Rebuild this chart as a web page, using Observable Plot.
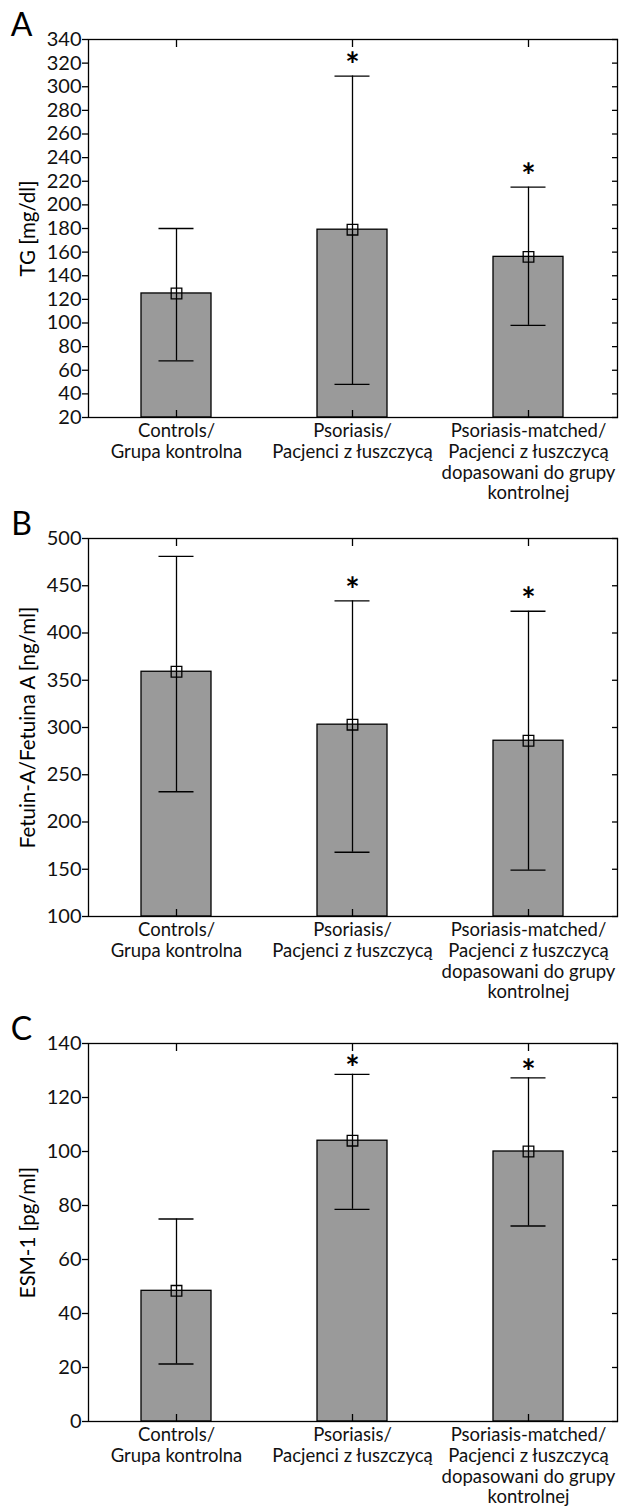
<!DOCTYPE html>
<html><head><meta charset="utf-8">
<script src="https://cdn.jsdelivr.net/npm/d3@7"></script>
<script src="https://cdn.jsdelivr.net/npm/@observablehq/plot@0.6"></script>
<style>
body{margin:0;background:#fff;font-family:Lato,"Noto Sans",sans-serif;}
#root{width:619px;}
#root svg{display:block;}
</style></head><body><div id="root"></div>
<script>
const categories = ["Controls", "Psoriasis", "Matched"];
const categoryLabels = [
  "Controls/\nGrupa kontrolna",
  "Psoriasis/\nPacjenci z łuszczycą",
  "Psoriasis-matched/\nPacjenci z łuszczycą\ndopasowani do grupy\nkontrolnej"
];
const significant = [false, true, true];

// Panel A: TG [mg/dl]
const tgMean = [125, 179, 156];
const tgLow = [68, 48, 98];
const tgHigh = [180, 309, 215];
const tgTicks = [20, 40, 60, 80, 100, 120, 140, 160, 180, 200, 220, 240, 260, 280, 300, 320, 340];

// Panel B: Fetuin-A [ng/ml]
const fetMean = [359, 303, 286];
const fetLow = [232, 168, 149];
const fetHigh = [481, 434, 423];
const fetTicks = [100, 150, 200, 250, 300, 350, 400, 450, 500];

// Panel C: ESM-1 [pg/ml]
const esmMean = [48.4, 104, 100];
const esmLow = [21.3, 78.6, 72.4];
const esmHigh = [75, 128.6, 127.3];
const esmTicks = [0, 20, 40, 60, 80, 100, 120, 140];

const labelOf = new Map(categories.map((c, i) => [c, categoryLabels[i]]));

function panel({letter, yLabel, ticks, mean, low, high, height, marginTop, marginBottom, starDy}) {
  const data = categories.map((c, i) => ({cat: c, mean: mean[i], low: low[i], high: high[i], star: significant[i]}));
  const domain = [ticks[0], ticks[ticks.length - 1]];
  const sw = 1.3;
  return Plot.plot({
    width: 619, height, marginTop, marginBottom, marginLeft: 88, marginRight: 2,
    style: {fontFamily: "Lato, sans-serif", color: "#000", background: "#fff", overflow: "visible"},
    x: {type: "band", domain: categories, paddingInner: 0.6, paddingOuter: 0.3, label: null},
    y: {domain, label: null},
    marks: [
      Plot.barY(data, {x: "cat", y1: domain[0], y2: "mean", fill: "#9a9a9a", stroke: "#000", strokeWidth: sw}),
      Plot.ruleX(data, {x: "cat", y1: "low", y2: "high", stroke: "#000", strokeWidth: sw}),
      Plot.tickY(data, {x: "cat", y: "high", insetLeft: 17.5, insetRight: 17.5, stroke: "#000", strokeWidth: sw}),
      Plot.tickY(data, {x: "cat", y: "low", insetLeft: 17.5, insetRight: 17.5, stroke: "#000", strokeWidth: sw}),
      Plot.dot(data, {x: "cat", y: "mean", symbol: "square", r: 6, stroke: "#000", fill: "none", strokeWidth: sw}),
      Plot.text(data.filter(d => d.star), {x: "cat", y: "high", text: () => "*", dy: starDy, fontSize: 34, fontWeight: "bold", lineAnchor: "middle", fill: "#000"}),
      Plot.frame({stroke: "#000", strokeWidth: sw}),
      Plot.axisY({ticks, tickSize: 6, tickPadding: 1, fontSize: 20, fill: "#111", label: null, strokeWidth: sw}),
      Plot.axisY({anchor: "right", ticks, tickSize: -6, tickFormat: () => "", label: null, strokeWidth: sw}),
      Plot.axisX({anchor: "bottom", tickSize: -7, tickFormat: () => "", label: null, strokeWidth: sw}),
      Plot.axisX({anchor: "top", tickSize: -7, tickFormat: () => "", label: null, strokeWidth: sw}),
      Plot.axisX({anchor: "bottom", tickSize: 0, tickPadding: 5, tickFormat: c => labelOf.get(c), fontSize: 18.5, lineHeight: 1.12, fill: "#111", label: null}),
      Plot.text([yLabel], {text: d => d, frameAnchor: "left", rotate: -90, dx: -60, fontSize: 20.5, fill: "#000", lineAnchor: "middle", textAnchor: "middle"}),
      Plot.text([letter], {text: d => d, frameAnchor: "top-left", dx: -67, dy: -14, fontSize: 32, fill: "#000", lineAnchor: "middle", textAnchor: "middle"})
    ]
  });
}

const root = document.getElementById("root");
root.append(panel({letter: "A", yLabel: "TG [mg/dl]", ticks: tgTicks, mean: tgMean, low: tgLow, high: tgHigh, height: 500, marginTop: 39, marginBottom: 83, starDy: -10}));
root.append(panel({letter: "B", yLabel: "Fetuin-A/Fetuina A [ng/ml]", ticks: fetTicks, mean: fetMean, low: fetLow, high: fetHigh, height: 505, marginTop: 38, marginBottom: 89, starDy: -10}));
root.append(panel({letter: "C", yLabel: "ESM-1 [pg/ml]", ticks: esmTicks, mean: esmMean, low: esmLow, high: esmHigh, height: 503, marginTop: 38, marginBottom: 87, starDy: -5}));
</script></body></html>
